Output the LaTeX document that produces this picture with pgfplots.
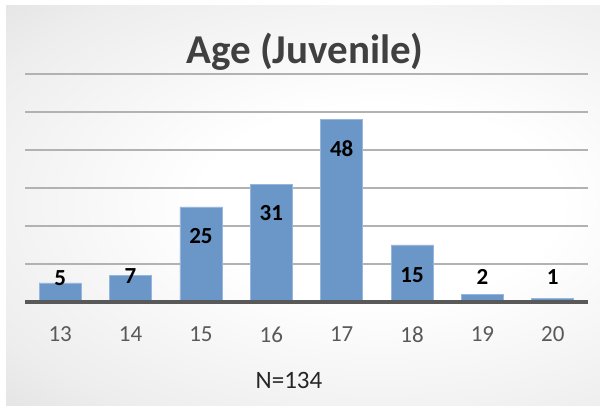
\documentclass[border=0pt]{standalone}
\usepackage{pgfplots}
\pgfplotsset{compat=1.18}
\usepackage{fontspec}
\setmainfont{Carlito}
\definecolor{barblue}{RGB}{106,150,200}
\definecolor{baredge}{RGB}{150,182,222}
\definecolor{axisgray}{RGB}{89,89,89}
\definecolor{titlegray}{RGB}{64,64,64}
\pgfdeclareradialshading{bgshade}{\pgfpoint{0bp}{0bp}}{color(0bp)=(white); color(12bp)=(white); color(30bp)=(black!7); color(45bp)=(black!16); color(55bp)=(black!20); color(75bp)=(black!22)}

\pgfplotstableread{
x y
0 5
1 7
2 25
3 31
4 48
5 15
6 2
7 1
}\agedata

% label positions (centre of each label, in axis units)
\pgfplotstableread{
x ly lab
0 6.2 5
1 6.8 7
2 17.3 25
3 23.4 31
4 40.3 48
5 7.2 15
6 6.6 2
7 6.6 1
}\labeldata

\begin{document}
\begin{tikzpicture}
\useasboundingbox (0,0) rectangle (600pt,406pt);
\fill[white] (0,0) rectangle (600pt,406pt);
\begin{scope}
\clip (6pt,0) rectangle (600pt,400pt);
\shade[shading=bgshade] (6pt,0) rectangle (754pt,406pt);
\end{scope}
\begin{axis}[at={(25pt,104pt)},anchor=south west,scale only axis,width=563pt,height=228pt,
  xmin=-0.5,xmax=7.5,ymin=0,ymax=60,
  xtick={0,1,2,3,4,5,6,7},xticklabels={13,14,15,16,17,18,19,20},
  ytick={10,20,30,40,50,60},yticklabels={},
  ymajorgrids,grid style={black!30,line width=1.2pt},
  major tick length=0pt,axis line style={draw=none},
  xticklabel style={anchor=center,yshift=-32.5pt,font=\fontsize{23}{27}\selectfont,text=axisgray},
  clip=false]
\addplot[ybar,bar width=42pt,fill=barblue,draw=baredge,line width=0.8pt] table[x=x,y=y] {\agedata};
\addplot[draw=none,mark=none,nodes near coords,point meta=explicit symbolic,
  nodes near coords style={anchor=center,font=\fontsize{23}{27}\selectfont\bfseries,text=black}]
  table[x=x,y=ly,meta=lab] {\labeldata};
\draw[line width=3.5pt,axisgray] (axis cs:-0.5,0) -- (axis cs:7.5,0);
\end{axis}
\node[anchor=base,font=\fontsize{41}{49}\selectfont\bfseries,text=titlegray] at (305pt,342pt) {Age (Juvenile)};
\node[anchor=center,font=\fontsize{25}{30}\selectfont,text=black!85] at (289pt,26pt) {N=134};
\end{tikzpicture}
\end{document}
